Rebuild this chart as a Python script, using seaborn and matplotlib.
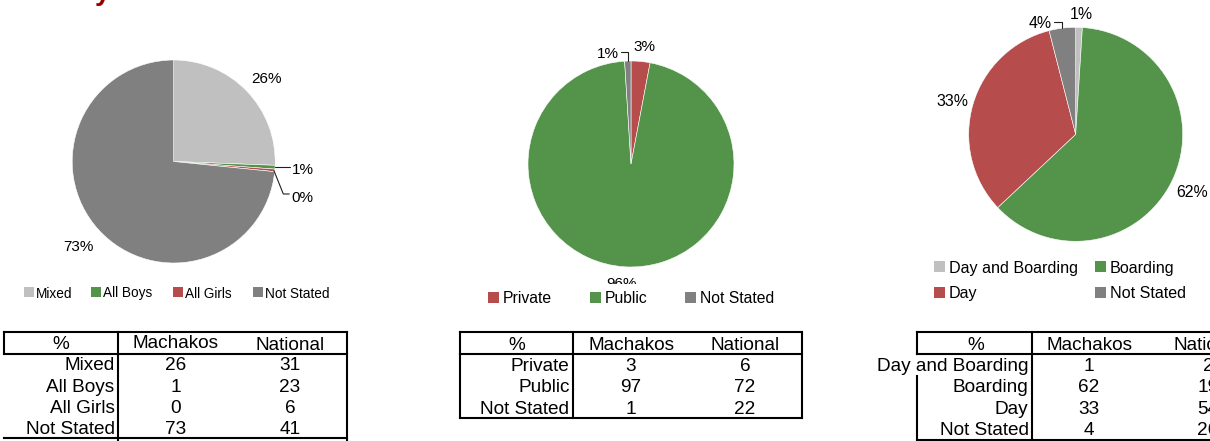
import numpy as np
import pandas as pd
import matplotlib
matplotlib.use("Agg")
import matplotlib.pyplot as plt
from matplotlib.patches import Rectangle
import seaborn as sns

# ---------------- data ----------------
type_categories = ["Mixed", "All Boys", "All Girls", "Not Stated"]
type_machakos = [25.6, 0.6, 0.4, 73.4]
type_national = [31, 23, 6, 41]

owner_categories = ["Private", "Public", "Not Stated"]
owner_machakos = [3, 97, 1]
owner_national = [6, 72, 22]

board_categories = ["Day and Boarding", "Boarding", "Day", "Not Stated"]
board_machakos = [1, 62, 33, 4]
board_national = [2, 19, 54, 26]

table_header = ["%", "Machakos", "National"]

# ---------------- style ----------------
sns.set_theme(style="white")
plt.rcParams["font.family"] = ["Liberation Sans", "DejaVu Sans"]
plt.rcParams["text.color"] = "black"

LIGHT, GREEN, RED, GRAY = "#C0C0C0", "#53944A", "#B64C4C", "#808080"
type_colors = sns.color_palette([LIGHT, GREEN, RED, GRAY])
owner_colors = sns.color_palette([RED, GREEN, GRAY])
board_colors = sns.color_palette([LIGHT, GREEN, RED, GRAY])

W, H = 1210, 441
fig = plt.figure(figsize=(W / 100, H / 100), dpi=100)
fig.patch.set_facecolor("white")


def pie_axes(cx, cy, r):
    return fig.add_axes([(cx - r) / W, 1 - (cy + r) / H, 2 * r / W, 2 * r / H])


def draw_pie(ax, values, colors, label_pos, fs, leaders):
    wedges, _ = ax.pie(values, colors=colors, startangle=90, counterclock=False,
                       wedgeprops=dict(edgecolor="white", linewidth=0.4))
    ax.set_xlim(-1, 1)
    ax.set_ylim(-1, 1)
    ax.set_aspect("equal")
    for w in wedges:
        w.set_clip_on(False)
    vals = np.asarray(values, dtype=float)
    pct = vals / vals.sum() * 100
    for p, (x, y, ha) in zip(pct, label_pos):
        ax.text(x, y, f"{p:.0f}%", ha=ha, va="center_baseline", fontsize=fs,
                color="black", clip_on=False)
    for seg in leaders:
        xs, ys = zip(*seg)
        ax.plot(xs, ys, color="#202020", lw=0.8, clip_on=False)


# Pie 1: school type
ax1 = pie_axes(173.7, 161.5, 101.5)
draw_pie(ax1, type_machakos, type_colors,
         [(0.916, 0.826, "center"), (1.163, -0.067, "left"),
          (1.163, -0.347, "left"), (-0.943, -0.823, "center")], 11,
         [[(0.995, -0.057), (1.146, -0.057)],
          [(0.988, -0.091), (1.08, -0.32), (1.139, -0.32)]])

# Pie 2: ownership
ax2 = pie_axes(631, 164, 103)
draw_pie(ax2, owner_machakos, owner_colors,
         [(0.126, 1.155, "center"), (-0.097, -1.15, "center"), (-0.114, 1.08, "right")], 11,
         [[(-0.1, 1.09), (-0.026, 1.09), (-0.026, 1.0)]])

# Pie 3: boarding
ax3 = pie_axes(1075.7, 134.3, 107)
draw_pie(ax3, board_machakos, board_colors,
         [(0.056, 1.137, "center"), (1.087, -0.527, "center"),
          (-1.153, 0.321, "center"), (-0.22, 1.052, "right")], 11.4,
         [[(-0.203, 1.052), (-0.131, 1.052), (-0.131, 0.99)]])

# ---------------- overlay (legends, tables) ----------------
ov = fig.add_axes([0, 0, 1, 1])
ov.set_xlim(0, W)
ov.set_ylim(H, 0)
ov.axis("off")
ov.set_zorder(5)
ov.patch.set_alpha(0)

# partial title (cut off at top)
ov.text(95, -0.5, "y", color="#990000", fontsize=20, fontweight="bold",
        ha="left", va="baseline")

# white cover hiding lower half of the 96% label
ov.add_patch(Rectangle((470, 283.5), 330, 30, facecolor="white", edgecolor="none", zorder=1))


def legend(items, colors, pos, size, fs, gap):
    for (lab, col, (x, y)) in zip(items, colors, pos):
        ov.add_patch(Rectangle((x, y - size / 2), size, size, facecolor=col,
                               edgecolor="none", zorder=2))
        ov.text(x + size + gap, y, lab, ha="left", va="center_baseline",
                fontsize=fs, zorder=3, color="black")


legend(type_categories, type_colors,
       [(24, 292), (91, 292), (173, 292), (253, 292)], 10, 9.8, 2)
legend(owner_categories, owner_colors,
       [(488, 297.3), (590, 297.3), (685, 297.3)], 11, 11.3, 3.5)
legend(board_categories, board_colors,
       [(934, 266.7), (1095, 266.7), (934, 292.3), (1095, 292.3)], 11, 11.6, 4)

LW = 1.5
TFS = 13.7


def hline(y, x0, x1):
    ov.plot([x0, x1], [y, y], color="black", lw=LW, solid_capstyle="projecting")


def vline(x, y0, y1):
    ov.plot([x, x], [y0, y1], color="black", lw=LW, solid_capstyle="projecting")


def table(cats, mach, nat, left, div, right, top, hdr, bottom, row_ys,
          hdr_xy, col_x, lab_right, left_body=True, left_body_start=None,
          extend_div=False):
    hline(top, left, right)
    hline(hdr, left, right)
    hline(bottom, left, right)
    vline(left, top, hdr)
    if left_body:
        vline(left, hdr, bottom)
    if left_body_start is not None:
        vline(left, left_body_start, bottom)
    vline(div, top, H + 5 if extend_div else bottom)
    vline(right, top, H + 5 if extend_div else bottom)
    for txt, (x, y) in zip(table_header, hdr_xy):
        ov.text(x, y, txt, ha="center", va="center_baseline", fontsize=TFS, color="black")
    for c, m, n, y in zip(cats, mach, nat, row_ys):
        ov.text(lab_right, y, c, ha="right", va="center_baseline", fontsize=TFS, color="black")
        ov.text(col_x[0], y, f"{m:.0f}", ha="center", va="center_baseline", fontsize=TFS, color="black")
        ov.text(col_x[1], y, f"{n:.0f}", ha="center", va="center_baseline", fontsize=TFS, color="black")


table(type_categories, type_machakos, type_national,
      4, 118, 347, 332, 353.5, 438, [363.5, 385, 406.5, 427.5],
      [(61, 342.5), (176, 341.5), (290, 343.5)], (176, 290), 114.5,
      left_body=False, extend_div=True)

table(owner_categories, owner_machakos, owner_national,
      460, 573, 802, 332, 353.5, 418, [364.5, 386, 407],
      [(517, 343), (631, 343), (745, 343)], (631, 745), 569.5)

table(board_categories, board_machakos, board_national,
      917, 1032, 1260, 332, 353.5, 439.5, [364.5, 386, 407.5, 428.5],
      [(976, 343), (1089, 343), (1208, 343)], (1089, 1208), 1028.5,
      left_body=False, left_body_start=376, extend_div=True)

fig.savefig("out.png", dpi=100, facecolor="white")
